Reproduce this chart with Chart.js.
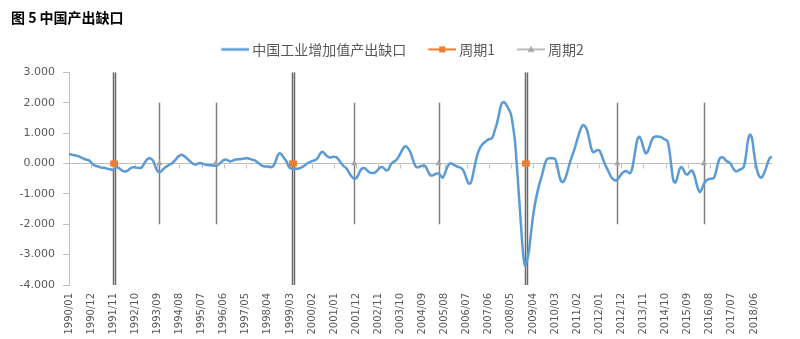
<!DOCTYPE html>
<html>
<head>
<meta charset="utf-8">
<script src="https://cdn.jsdelivr.net/npm/chart.js@4"></script>
<style>
  html, body { margin: 0; padding: 0; background: #fff; }
  #wrap { width: 800px; height: 339px; }
</style>
</head>
<body>
<div id="wrap"><canvas id="c" width="800" height="339"></canvas></div>
<script>
// Monthly categories 1990/01 .. 2019/03
const startYear = 1990;
const monthCount = 351;
const months = [];
for (let i = 0; i < monthCount; i++) {
  const y = startYear + Math.floor(i / 12);
  const m = (i % 12) + 1;
  months.push(y + '/' + (m < 10 ? '0' + m : m));
}
// every 11th month carries a tick label
const labelEvery = 11;

// 中国工业增加值产出缺口 (one value per month)
const outputGap = [
  0.32, 0.30, 0.28, 0.27, 0.25, 0.23, 0.20, 0.17, 0.14, 0.12, 0.10, 0.04,
  -0.03, -0.07, -0.09, -0.11, -0.13, -0.14, -0.15, -0.17, -0.18, -0.20, -0.21, -0.15,
  -0.12, -0.16, -0.21, -0.25, -0.26, -0.24, -0.19, -0.14, -0.12, -0.13, -0.14, -0.15,
  -0.14, -0.05, 0.06, 0.14, 0.17, 0.15, 0.08, -0.10, -0.24, -0.29, -0.25, -0.18,
  -0.12, -0.08, -0.04, -0.01, 0.05, 0.12, 0.20, 0.26, 0.29, 0.26, 0.21, 0.15,
  0.09, 0.03, -0.02, -0.03, -0.01, 0.02, 0.01, -0.02, -0.04, -0.05, -0.06, -0.06,
  -0.07, -0.07, -0.05, 0.00, 0.06, 0.11, 0.13, 0.11, 0.07, 0.08, 0.11, 0.13,
  0.14, 0.14, 0.15, 0.16, 0.17, 0.17, 0.15, 0.13, 0.12, 0.08, 0.03, -0.02,
  -0.07, -0.09, -0.10, -0.10, -0.11, -0.12, -0.05, 0.10, 0.28, 0.34, 0.28, 0.18,
  0.10, -0.05, -0.15, -0.17, -0.18, -0.17, -0.17, -0.15, -0.12, -0.08, -0.03, 0.02,
  0.05, 0.08, 0.10, 0.12, 0.20, 0.32, 0.39, 0.35, 0.27, 0.22, 0.20, 0.21,
  0.22, 0.21, 0.15, 0.06, -0.03, -0.10, -0.15, -0.25, -0.36, -0.45, -0.50, -0.48,
  -0.38, -0.24, -0.16, -0.15, -0.20, -0.26, -0.30, -0.31, -0.31, -0.26, -0.19, -0.13,
  -0.12, -0.17, -0.23, -0.20, -0.06, 0.03, 0.07, 0.12, 0.21, 0.33, 0.46, 0.55,
  0.56, 0.48, 0.37, 0.17, -0.02, -0.12, -0.12, -0.09, -0.07, -0.07, -0.15, -0.30,
  -0.39, -0.39, -0.36, -0.33, -0.33, -0.40, -0.47, -0.35, -0.17, -0.04, 0.01, -0.02,
  -0.06, -0.09, -0.12, -0.14, -0.20, -0.33, -0.52, -0.66, -0.64, -0.40, -0.08, 0.21,
  0.42, 0.56, 0.65, 0.70, 0.76, 0.80, 0.81, 0.88, 1.10, 1.31, 1.60, 1.90,
  2.02, 2.00, 1.90, 1.78, 1.63, 1.25, 0.75, -0.10, -1.05, -2.00, -2.90, -3.36,
  -3.20, -2.86, -2.30, -1.75, -1.33, -1.00, -0.72, -0.50, -0.25, 0.00, 0.15, 0.17,
  0.17, 0.17, 0.15, -0.05, -0.38, -0.58, -0.61, -0.50, -0.30, -0.05, 0.15, 0.35,
  0.55, 0.78, 1.00, 1.18, 1.27, 1.22, 1.08, 0.80, 0.50, 0.37, 0.40, 0.44,
  0.43, 0.30, 0.12, -0.05, -0.18, -0.32, -0.45, -0.52, -0.56, -0.53, -0.44, -0.35,
  -0.29, -0.25, -0.27, -0.32, -0.25, 0.05, 0.45, 0.80, 0.88, 0.75, 0.52, 0.34,
  0.38, 0.55, 0.75, 0.86, 0.89, 0.89, 0.88, 0.86, 0.82, 0.78, 0.73, 0.40,
  -0.15, -0.58, -0.62, -0.42, -0.18, -0.12, -0.22, -0.34, -0.36, -0.28, -0.23, -0.32,
  -0.55, -0.80, -0.94, -0.85, -0.68, -0.58, -0.53, -0.51, -0.50, -0.48, -0.30, -0.02,
  0.17, 0.21, 0.18, 0.10, 0.06, 0.02, -0.08, -0.20, -0.26, -0.24, -0.20, -0.17,
  -0.10, 0.25, 0.75, 0.95, 0.85, 0.37, -0.05, -0.32, -0.45, -0.45, -0.33, -0.15,
  0.05, 0.19, 0.22
];

// 周期1 / 周期2 turning points, marked on the zero line
const cycle1Months = ['1991/11', '1991/12', '1999/04', '1999/05', '2008/12', '2009/01'];
const cycle2Months = ['1993/10', '1996/02', '2001/11', '2005/05', '2012/10', '2016/05'];
const cycle1Level = 0;
const cycle2Level = 0;
// vertical extent of the bar through each turning point
const cycle1Span = [3, -4];
const cycle2Span = [2, -2];

// y axis
const yMin = -4, yMax = 3, yStep = 1;

const cycle1Data = months.map(m => cycle1Months.includes(m) ? cycle1Level : null);
const cycle2Data = months.map(m => cycle2Months.includes(m) ? cycle2Level : null);

const BLUE = '#5B9BD5', ORANGE = '#ED7D31', GRAY = '#A5A5A5', AXIS = '#BFBFBF', TEXT = '#595959';

// legend swatches: a short line with the series marker
function swatch(color, lineWidth, marker) {
  const c = document.createElement('canvas');
  c.width = 38; c.height = 10;
  const g = c.getContext('2d');
  g.strokeStyle = color; g.lineWidth = lineWidth;
  g.beginPath(); g.moveTo(10, 5); g.lineTo(38, 5); g.stroke();
  g.fillStyle = color;
  if (marker === 'rect') g.fillRect(21, 2, 6, 6);
  if (marker === 'triangle') {
    g.beginPath(); g.moveTo(24, 1.5); g.lineTo(27.5, 7.5); g.lineTo(20.5, 7.5); g.closePath(); g.fill();
  }
  return c;
}
const swatches = [swatch(BLUE, 2.5), swatch(ORANGE, 2, 'rect'), swatch(GRAY, 1.5, 'triangle')];

// vertical bars through the cycle markers
const cycleBars = {
  id: 'cycleBars',
  beforeDatasetsDraw(chart) {
    const { ctx } = chart;
    const y = chart.scales.y;
    chart.data.datasets.forEach((ds, i) => {
      if (!ds.barSpan) return;
      const meta = chart.getDatasetMeta(i);
      ctx.save();
      ctx.strokeStyle = ds.barColor;
      ctx.lineWidth = ds.barWidth;
      meta.data.forEach((pt, j) => {
        if (ds.data[j] === null) return;
        const px = Math.round(pt.x) + 0.5;
        ctx.beginPath();
        ctx.moveTo(px, y.getPixelForValue(ds.barSpan[0]));
        ctx.lineTo(px, y.getPixelForValue(ds.barSpan[1]));
        ctx.stroke();
      });
      ctx.restore();
    });
  }
};

// category tick marks hanging off the zero line
const zeroTicks = {
  id: 'zeroTicks',
  beforeDatasetsDraw(chart) {
    const { ctx } = chart;
    const x = chart.scales.x, y = chart.scales.y;
    const y0 = Math.round(y.getPixelForValue(0)) + 0.5;
    ctx.save();
    ctx.strokeStyle = AXIS;
    ctx.lineWidth = 1;
    for (let i = labelEvery; i < months.length; i += labelEvery) {
      const px = Math.round(x.getPixelForValue(i)) + 0.5;
      ctx.beginPath(); ctx.moveTo(px, y0); ctx.lineTo(px, y0 + 4); ctx.stroke();
    }
    ctx.restore();
  }
};

// lift title and legend a little above the space reserved for them,
// leaving a gap over the plot; centre the legend row over the plot
const headerNudge = {
  id: 'headerNudge',
  afterLayout(chart) {
    const lg = chart.legend, tt = chart.titleBlock;
    if (lg) { lg.left += 8; lg.right += 8; lg.top -= 6; lg.bottom -= 6; }
    if (tt) { tt.top -= 6; tt.bottom -= 6; }
  }
};

new Chart(document.getElementById('c'), {
  type: 'line',
  data: {
    labels: months,
    datasets: [
      {
        label: '中国工业增加值产出缺口',
        data: outputGap,
        borderColor: BLUE,
        backgroundColor: BLUE,
        borderWidth: 2.5,
        pointRadius: 0,
        tension: 0.35,
        order: 2
      },
      {
        label: '周期1',
        data: cycle1Data,
        showLine: false,
        pointStyle: 'rect',
        pointRadius: 4.2,
        pointBackgroundColor: ORANGE,
        pointBorderColor: ORANGE,
        pointBorderWidth: 0,
        borderColor: ORANGE,
        backgroundColor: ORANGE,
        barSpan: cycle1Span,
        barColor: '#6A6A6A',
        barWidth: 1.5,
        order: 1
      },
      {
        label: '周期2',
        data: cycle2Data,
        showLine: false,
        pointStyle: 'triangle',
        pointRadius: 3.5,
        pointBackgroundColor: GRAY,
        pointBorderColor: GRAY,
        pointBorderWidth: 0,
        borderColor: GRAY,
        backgroundColor: GRAY,
        barSpan: cycle2Span,
        barColor: '#808080',
        barWidth: 1.5,
        order: 0
      }
    ]
  },
  options: {
    responsive: false,
    animation: false,
    devicePixelRatio: 1,
    layout: { padding: { left: 11, right: 28, top: 6, bottom: 0 } },
    plugins: {
      tooltip: { enabled: false },
      title: {
        display: true,
        text: '图 5 中国产出缺口',
        align: 'start',
        color: '#000',
        font: { family: '"Noto Sans CJK SC", "DejaVu Sans", sans-serif', size: 14, weight: 'bold' },
        padding: { top: 9.6, bottom: 0 }
      },
      legend: {
        display: true,
        position: 'top',
        labels: {
          usePointStyle: true,
          pointStyleWidth: 30,
          padding: 16,
          color: TEXT,
          font: { family: '"Noto Sans CJK SC", sans-serif', size: 14 },
          sort: (a, b) => a.datasetIndex - b.datasetIndex,
          generateLabels(chart) {
            const items = Chart.defaults.plugins.legend.labels.generateLabels(chart);
            items.forEach(it => { it.pointStyle = swatches[it.datasetIndex]; it.rotation = 0; });
            return items;
          }
        }
      }
    },
    scales: {
      x: {
        type: 'category',
        offset: false,
        grid: { display: false, drawTicks: false },
        border: { display: false },
        afterFit(scale) { scale.height = 54; },
        ticks: {
          autoSkip: false,
          maxRotation: 90,
          minRotation: 90,
          padding: 8,
          color: TEXT,
          font: { family: '"DejaVu Sans", sans-serif', size: 10 },
          callback(value, index) {
            return index % labelEvery === 0 ? this.getLabelForValue(value) : '';
          }
        }
      },
      y: {
        min: yMin,
        max: yMax,
        afterFit(scale) { scale.width = 58; },
        grid: {
          color: ctx => (ctx.tick && ctx.tick.value === 0 ? AXIS : 'rgba(0,0,0,0)'),
          tickColor: AXIS,
          tickLength: 6,
          lineWidth: 1
        },
        border: { display: true, color: AXIS, width: 1 },
        ticks: {
          stepSize: yStep,
          padding: 8,
          color: TEXT,
          font: { family: '"DejaVu Sans", sans-serif', size: 11 },
          callback: v => v.toFixed(3)
        }
      }
    }
  },
  plugins: [cycleBars, zeroTicks, headerNudge]
});
</script>
</body>
</html>
